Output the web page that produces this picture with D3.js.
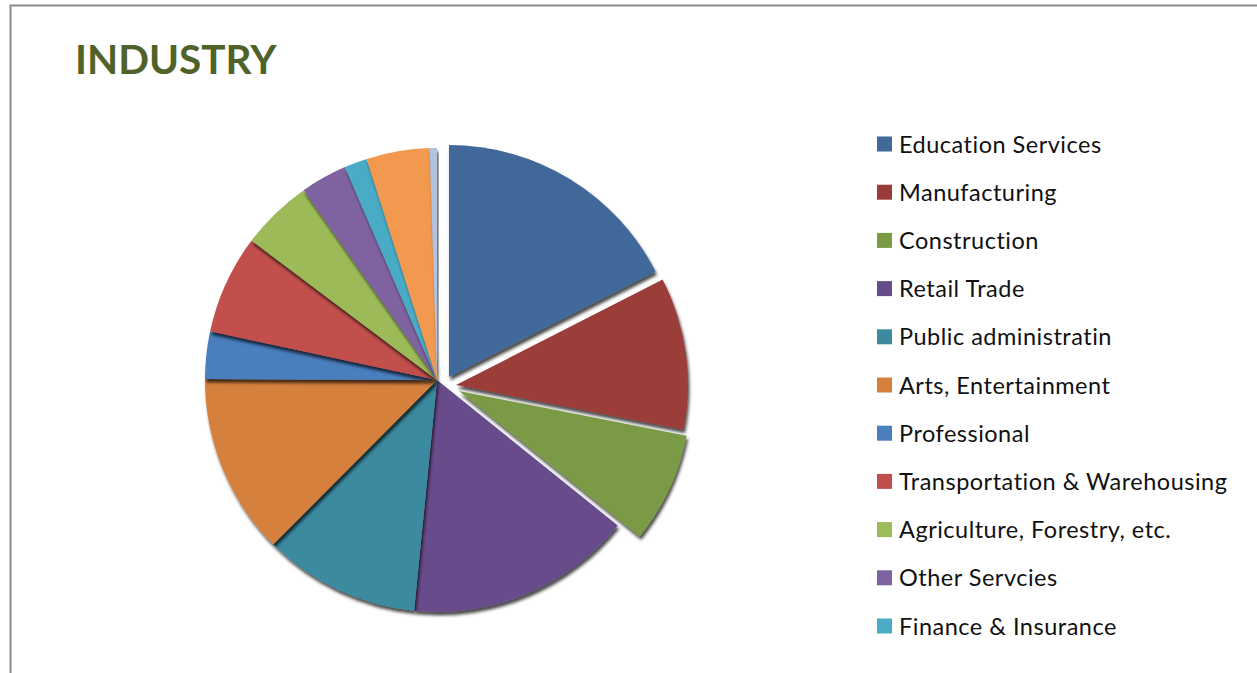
<!DOCTYPE html>
<html>
<head>
<meta charset="utf-8">
<script src="https://cdn.jsdelivr.net/npm/d3@7"></script>
<style>
  body { margin: 0; background: #fff; }
  svg { display: block; }
  text { font-variant-ligatures: none; }
</style>
</head>
<body>
<div id="chart"></div>
<script>
// categories and shares (percent)
const categories = [
  "Education Services", "Manufacturing", "Construction", "Retail Trade",
  "Public administratin", "Arts, Entertainment", "Professional",
  "Transportation & Warehousing", "Agriculture, Forestry, etc.",
  "Other Servcies", "Finance & Insurance", "Wholesale Trade", "Information"
];
const shares = [17.5, 10.6, 7.7, 15.8, 10.9, 12.6, 3.3, 6.9, 5.0, 3.25, 1.6, 4.4, 0.5];
const colors = [
  "#41699A", "#9B3C39", "#7A9A45", "#674C8A", "#3B8A9F", "#D6803D",
  "#4A7EBF", "#C24F4C", "#9CBB59", "#7F63A1", "#4AABC5", "#F3994F", "#B3C2E0"
];

const width = 1257, height = 673;
const cx = 437, cy = 380, radius = 232;

// pulled-out slices (pixel offsets)
const explode = { 0: [12, -3], 1: [19, 5], 2: [22, 11] };

const data = categories.map((c, i) => ({ name: c, value: shares[i], color: colors[i] }));

const svg = d3.select("#chart").append("svg")
  .attr("width", width)
  .attr("height", height);

// shadow under the slices
const defs = svg.append("defs");
const f = defs.append("filter").attr("id", "shadow")
  .attr("x", "-20%").attr("y", "-20%").attr("width", "140%").attr("height", "140%");
f.append("feDropShadow")
  .attr("dx", 1.5).attr("dy", 3.5).attr("stdDeviation", 1.5)
  .attr("flood-color", "#000").attr("flood-opacity", 0.7);

// frame
svg.append("path")
  .attr("d", `M10.5,${height} L10.5,5.5 L${width},5.5`)
  .attr("fill", "none")
  .attr("stroke", "#8c8c8c")
  .attr("stroke-width", 2);

// title
svg.append("text")
  .attr("x", 75)
  .attr("y", 74)
  .style("font-family", "Lato, 'Open Sans', sans-serif")
  .style("font-weight", "bold")
  .style("font-size", "40.5px")
  .attr("fill", "#4F6228")
  .text("INDUSTRY");

const pie = d3.pie().sort(null).value(d => d.value);
const arc = d3.arc().innerRadius(0).outerRadius(radius);

const g = svg.append("g").attr("transform", `translate(${cx},${cy})`);

g.selectAll("path.slice")
  .data(pie(data))
  .enter().append("path")
  .attr("class", "slice")
  .attr("d", arc)
  .attr("transform", (d, i) => {
    const o = explode[i] || [0, 0];
    return `translate(${o[0]},${o[1]})`;
  })
  .attr("fill", d => d.data.color)
  .attr("filter", "url(#shadow)");

// legend: the box only has room for the first 11 entries
const legend = svg.append("g").attr("transform", "translate(877,144)");
const rowH = 48.2;

const item = legend.selectAll("g.item")
  .data(data.slice(0, 11))
  .enter().append("g")
  .attr("class", "item")
  .attr("transform", (d, i) => `translate(0,${i * rowH})`);

item.append("rect")
  .attr("x", 0)
  .attr("y", -7.5)
  .attr("width", 15)
  .attr("height", 15)
  .attr("fill", d => d.color);

item.append("text")
  .attr("x", 22)
  .attr("y", 8.5)
  .style("font-family", "Lato, 'Open Sans', sans-serif")
  .style("font-size", "23.5px")
  .style("letter-spacing", "0.5px")
  .attr("fill", "#111")
  .text(d => d.name);
</script>
</body>
</html>
